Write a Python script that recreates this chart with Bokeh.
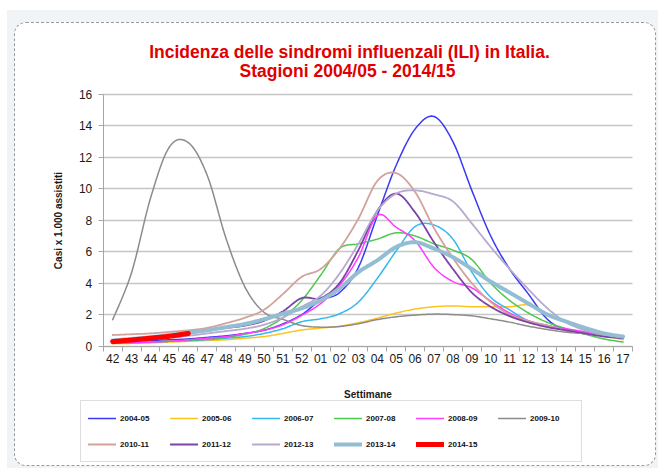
import numpy as np
from bokeh.plotting import figure
from bokeh.models import (FixedTicker, Legend, LegendItem, Label, Range1d, Grid)
from bokeh.embed import file_html
from bokeh.resources import INLINE

# ---------------- data ----------------
weeks = ["42", "43", "44", "45", "46", "47", "48", "49", "50", "51", "52",
         "01", "02", "03", "04", "05", "06", "07", "08", "09", "10", "11",
         "12", "13", "14", "15", "16", "17"]
y_ticks = [0, 2, 4, 6, 8, 10, 12, 14, 16]

s2004_05 = [0.25, 0.3, 0.35, 0.4, 0.45, 0.55, 0.65, 0.8, 1.0, 1.4, 2.0, 2.9, 3.4, 5.0,
            8.3, 11.5, 13.8, 14.6, 13.0, 9.9, 7.0, 4.9, 3.3, 1.7, 1.0, 0.8, 0.65, 0.45]
s2005_06 = [0.15, 0.17, 0.2, 0.25, 0.3, 0.35, 0.4, 0.5, 0.6, 0.8, 1.02, 1.14, 1.26, 1.48,
            1.77, 2.1, 2.35, 2.5, 2.55, 2.5, 2.5, 2.5, 2.6, 2.05, 1.5, 1.0, 0.67, 0.4]
s2006_07 = [0.2, 0.2, 0.25, 0.3, 0.35, 0.4, 0.5, 0.6, 0.8, 1.1, 1.55, 1.73, 2.05, 2.8,
            4.3, 6.05, 7.6, 7.7, 6.8, 4.7, 3.1, 2.3, 1.6, 1.3, 1.05, 0.85, 0.65, 0.5]
s2007_08 = [0.2, 0.22, 0.25, 0.3, 0.35, 0.45, 0.55, 0.75, 1.1, 1.8, 2.9, 4.5, 6.2, 6.5,
            6.8, 7.2, 7.0, 6.5, 6.1, 5.5, 4.0, 2.9, 2.1, 1.5, 1.1, 0.75, 0.45, 0.25]
s2008_09 = [0.2, 0.22, 0.25, 0.3, 0.4, 0.5, 0.6, 0.8, 1.0, 1.35, 1.95, 2.7, 3.85, 5.65,
            8.3, 7.55, 6.7, 5.0, 4.1, 3.7, 2.85, 2.1, 1.6, 1.3, 1.1, 0.9, 0.7, 0.5]
s2009_10 = [1.67, 4.68, 9.4, 12.66, 12.94, 10.86, 6.83, 3.75, 2.15, 1.7, 1.3, 1.2, 1.24, 1.42,
            1.68, 1.86, 1.97, 2.03, 2.0, 1.92, 1.73, 1.52, 1.26, 1.05, 0.88, 0.78, 0.65, 0.52]
s2010_11 = [0.7, 0.75, 0.8, 0.9, 1.0, 1.15, 1.45, 1.8, 2.3, 3.3, 4.4, 4.9, 6.2, 8.1,
            10.5, 11.0, 9.8, 7.5, 5.6, 4.0, 2.8, 2.0, 1.6, 1.3, 1.0, 0.8, 0.65, 0.5]
s2011_12 = [0.35, 0.45, 0.55, 0.7, 0.85, 1.0, 1.15, 1.3, 1.6, 2.2, 3.05, 3.05, 4.0, 6.1,
            8.6, 9.7, 8.5, 6.6, 4.9, 3.4, 2.5, 1.9, 1.5, 1.2, 1.0, 0.8, 0.6, 0.5]
s2012_13 = [0.3, 0.35, 0.45, 0.55, 0.65, 0.8, 0.95, 1.1, 1.35, 1.8, 2.5, 3.2, 4.6, 6.5,
            8.6, 9.7, 9.9, 9.65, 9.2, 7.8, 6.3, 4.9, 3.6, 2.4, 1.5, 1.0, 0.75, 0.55]
s2013_14 = [0.35, 0.45, 0.55, 0.7, 0.85, 1.0, 1.2, 1.4, 1.7, 2.05, 2.4, 2.9, 3.65, 4.7,
            5.45, 6.3, 6.6, 6.2, 5.65, 4.9, 4.1, 3.4, 2.7, 2.0, 1.55, 1.15, 0.8, 0.6]
s2014_15 = [0.28, 0.38, 0.5, 0.62, 0.8]

season_names = ["2004-05", "2005-06", "2006-07", "2007-08", "2008-09", "2009-10",
                "2010-11", "2011-12", "2012-13", "2013-14", "2014-15"]
season_values = [s2004_05, s2005_06, s2006_07, s2007_08, s2008_09, s2009_10,
                 s2010_11, s2011_12, s2012_13, s2013_14, s2014_15]
season_colors = ["#3A3AF5", "#FFC31F", "#35B8F0", "#4DC94D", "#FF3CFF", "#8C8C8C",
                 "#D4A29C", "#7A44A8", "#B7AACF", "#93BDD3", "#FF0000"]
season_widths = [1.5, 1.5, 1.5, 1.5, 1.5, 1.5, 1.8, 1.8, 1.8, 4, 5]

title_line1 = "Incidenza delle sindromi influenzali (ILI) in Italia."
title_line2 = "Stagioni 2004/05 - 2014/15"
y_label = "Casi x 1.000 assistiti"
x_label = "Settimane"


def smooth(xs, ys, n=16):
    """Excel-like smoothed line (cubic Bezier through the data points)."""
    xs = np.asarray(xs, float)
    ys = np.asarray(ys, float)
    if len(xs) < 3:
        return xs, ys
    ox, oy = [xs[0]], [ys[0]]
    m = len(xs)
    t = np.linspace(0, 1, n + 1)[1:]
    for i in range(m - 1):
        i0 = max(i - 1, 0)
        i3 = min(i + 2, m - 1)
        p1 = np.array([xs[i], ys[i]])
        p2 = np.array([xs[i + 1], ys[i + 1]])
        c1 = p1 + (p2 - np.array([xs[i0], ys[i0]])) / 6.0
        c2 = p2 - (np.array([xs[i3], ys[i3]]) - p1) / 6.0
        b = ((1 - t) ** 3)[:, None] * p1 + (3 * (1 - t) ** 2 * t)[:, None] * c1 \
            + (3 * (1 - t) * t ** 2)[:, None] * c2 + (t ** 3)[:, None] * p2
        ox.extend(b[:, 0])
        oy.extend(b[:, 1])
    return np.array(ox), np.array(oy)


FONT = "Liberation Sans"
W, H = 658, 468
PX_X = 18.9          # pixels per week
AXIS_X = 102.75      # pixel position of the y axis
PX_Y = 15.72         # pixels per unit
Y16 = 94.0           # pixel row of the 16 gridline
n = len(weeks)

x_lo = -0.5 - AXIS_X / PX_X
x_hi = -0.5 + (W - AXIS_X) / PX_X
y_hi = 16 + Y16 / PX_Y
y_lo = 16 - (H - Y16) / PX_Y

p = figure(width=W, height=H, output_backend="svg", toolbar_location=None,
           title=None,
           x_range=Range1d(x_lo, x_hi), y_range=Range1d(y_lo, y_hi),
           min_border_left=0, min_border_right=0, min_border_top=0,
           min_border_bottom=0)

p.border_fill_alpha = 0
p.background_fill_alpha = 0
p.outline_line_color = None
p.stylesheets = [
    ":host { background-color: #FFFFFF; isolation: isolate; }"
    ":host::before { content: ''; position: absolute; left: 7px; top: 10px;"
    " right: 0px; bottom: 0px; background: #F1F4F7; z-index: -2;"
    " pointer-events: none; }"
    ":host::after { content: ''; position: absolute; left: 14px; top: 22px;"
    " width: 642px; height: 444px; box-sizing: border-box; background: #FFFFFF;"
    " border: 1.5px dashed #9A9A9A; border-radius: 12px; z-index: -1;"
    " pointer-events: none; }"
]

# titles (screen units, measured from the bottom-left of the frame)
for txt, cx, cy in ((title_line1, 349, 51), (title_line2, 347, 70)):
    p.add_layout(Label(x=cx, y=H - cy, x_units="screen", y_units="screen", text=txt,
                       text_align="center", text_baseline="middle",
                       text_color="#E00000", text_font=FONT,
                       text_font_size="17.5px", text_font_style="bold"))

# grid
p.xgrid.visible = False
p.ygrid.grid_line_color = "#C6C6C6"
p.ygrid.grid_line_width = 1.5
if "cross_bounds" in Grid.properties():
    p.ygrid.cross_bounds = (-0.5, n - 0.5)
else:
    p.ygrid.visible = False
    p.segment(x0=[-0.5] * len(y_ticks), x1=[n - 0.5] * len(y_ticks), y0=y_ticks,
              y1=y_ticks, line_color="#C6C6C6", line_width=1.5, level="underlay")

# axes drawn at fixed data locations
p.xaxis.fixed_location = 0
p.xaxis.bounds = (-0.5, n - 0.5)
p.xaxis.ticker = FixedTicker(ticks=list(range(n)),
                             minor_ticks=[i - 0.5 for i in range(n + 1)])
p.xaxis.major_label_overrides = {i: w for i, w in enumerate(weeks)}
p.xaxis.major_tick_out = 0
p.xaxis.major_tick_in = 0
p.xaxis.minor_tick_out = 5
p.xaxis.minor_tick_in = 0
p.xaxis.minor_tick_line_color = "#A6A6A6"
p.xaxis.axis_label = x_label
p.xaxis.axis_label_standoff = 22
p.xaxis.major_label_standoff = 3

p.yaxis.fixed_location = -0.5
p.yaxis.bounds = (0, 16)
p.yaxis.ticker = FixedTicker(ticks=y_ticks, minor_ticks=[])
p.yaxis.major_tick_out = 5
p.yaxis.major_tick_in = 0
p.yaxis.axis_label = y_label
p.yaxis.axis_label_standoff = 12
p.yaxis.major_label_standoff = 6

for ax in (p.xaxis[0], p.yaxis[0]):
    ax.axis_line_color = "#A6A6A6"
    ax.major_tick_line_color = "#A6A6A6"
    ax.major_label_text_font = FONT
    ax.major_label_text_font_size = "12px"
    ax.major_label_text_color = "#1A1A1A"
    ax.axis_label_text_font = FONT
    ax.axis_label_text_font_size = "10px"
    ax.axis_label_text_font_style = "bold"
    ax.axis_label_text_color = "#1A1A1A"

# series
items = []
for name, vals, col, w in zip(season_names, season_values, season_colors, season_widths):
    xs = list(range(len(vals)))
    sx, sy = smooth(xs, vals)
    r = p.line(sx, sy, line_color=col, line_width=w, line_join="round", line_cap="round")
    items.append(LegendItem(label=name, renderers=[r]))

legend = Legend(items=items, orientation="horizontal", ncols=6,
                location=(80, 6), margin=0, padding=7, spacing=6,
                glyph_width=28, glyph_height=20, label_height=20, label_width=44,
                label_standoff=4,
                label_text_font=FONT, label_text_font_size="8px",
                label_text_font_style="bold", label_text_color="#111111",
                border_line_color="#BDBDBD", border_line_width=1.5,
                background_fill_color="white", background_fill_alpha=1.0)
p.add_layout(legend, "center")

open("out.html", "w").write(file_html(p, INLINE))
